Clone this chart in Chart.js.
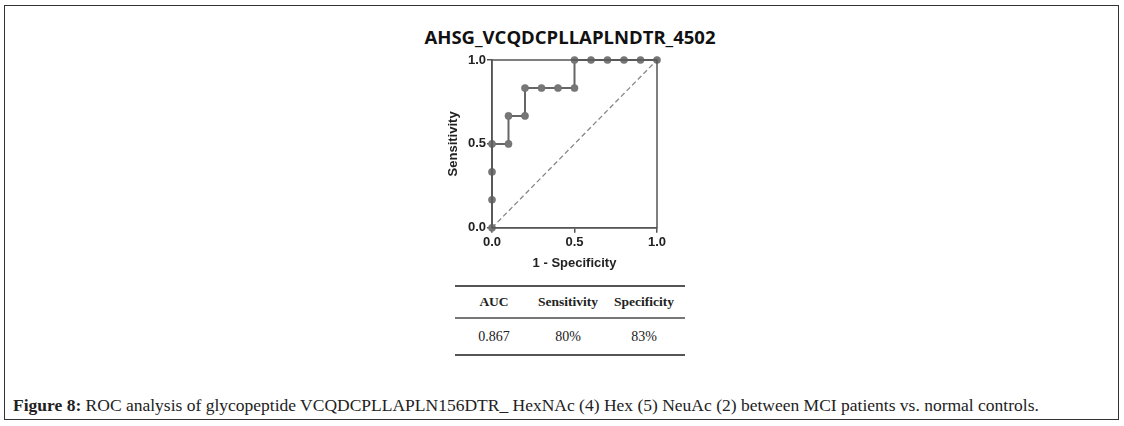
<!DOCTYPE html>
<html>
<head>
<meta charset="utf-8">
<script src="https://cdn.jsdelivr.net/npm/chart.js@4"></script>
<style>
  body { margin: 0; background: #fff; }
  #page { position: relative; width: 1124px; height: 426px; overflow: hidden; }
  #frame { position: absolute; left: 4px; top: 5px; width: 1113px; height: 413px; border: 1px solid #333; }
  #chartTitle { position: absolute; left: 370px; top: 25px; width: 400px; text-align: center;
                font-family: "Open Sans", Arial, sans-serif; font-weight: bold; font-size: 18.5px;
                line-height: 24px; color: #111; white-space: nowrap; }
  #chartBox { position: absolute; left: 372px; top: 18px; width: 400px; height: 265px; }
  #stats { position: absolute; left: 455px; top: 285px; width: 230px; border-collapse: collapse; table-layout: fixed;
           font-family: "Liberation Serif", serif; font-size: 14px; color: #222; }
  #stats th { font-weight: bold; font-size: 13.5px; height: 28px; text-align: center;
              border-top: 2px solid #555; border-bottom: 2px solid #777; }
  #stats td { height: 33px; border-bottom: 2px solid #555; text-align: center; }
  #caption { position: absolute; left: 13px; top: 395px; font-family: "Liberation Serif", serif;
             font-size: 17.5px; color: #222; white-space: nowrap; }
</style>
</head>
<body>
<div id="page">
  <div id="frame"></div>
  <div id="chartTitle">AHSG_VCQDCPLLAPLNDTR_4502</div>
  <div id="chartBox"><canvas id="rocChart"></canvas></div>
  <table id="stats">
    <colgroup><col style="width:78px"><col style="width:70px"><col style="width:82px"></colgroup>
    <thead><tr id="statsHead"></tr></thead>
    <tbody><tr id="statsRow"></tr></tbody>
  </table>
  <div id="caption"><b>Figure 8:</b> ROC analysis of glycopeptide VCQDCPLLAPLN156DTR_ HexNAc (4) Hex (5) NeuAc (2) between MCI patients vs. normal controls.</div>
</div>
<script>
// ROC curve points (1 - specificity, sensitivity)
const fpr = [0, 0, 0, 0, 0.1, 0.1, 0.2, 0.2, 0.3, 0.4, 0.5, 0.5, 0.6, 0.7, 0.8, 0.9, 1.0];
const tpr = [0, 0.167, 0.333, 0.5, 0.5, 0.667, 0.667, 0.833, 0.833, 0.833, 0.833, 1.0, 1.0, 1.0, 1.0, 1.0, 1.0];
const refX = [0, 1];
const refY = [0, 1];
const axisTicks = [0, 0.5, 1.0];
const statHeaders = ['AUC', 'Sensitivity', 'Specificity'];
const statValues = ['0.867', '80%', '83%'];

document.getElementById('statsHead').innerHTML = statHeaders.map(h => '<th>' + h + '</th>').join('');
document.getElementById('statsRow').innerHTML = statValues.map(v => '<td>' + v + '</td>').join('');

// Box around the plot area
const frameBox = {
    id: 'frameBox',
    afterDraw(chart) {
        const a = chart.chartArea, c = chart.ctx;
        c.save();
        c.strokeStyle = '#555';
        c.lineWidth = 1.5;
        c.strokeRect(a.left, a.top, a.right - a.left, a.bottom - a.top);
        c.restore();
    }
};

const tickFont = { family: 'Arial, "Liberation Sans"', size: 13, weight: 'bold' };
const titleFont = { family: 'Arial, "Liberation Sans"', size: 13, weight: 'bold' };

new Chart(document.getElementById('rocChart'), {
    type: 'line',
    data: {
        datasets: [{
            label: 'ROC',
            data: fpr.map((x, i) => ({ x: x, y: tpr[i] })),
            borderColor: '#666',
            borderWidth: 2,
            pointRadius: 3.6,
            pointBackgroundColor: '#777',
            pointBorderColor: '#6a6a6a',
            pointBorderWidth: 0.5,
            clip: false
        }, {
            label: 'Reference',
            data: refX.map((x, i) => ({ x: x, y: refY[i] })),
            borderColor: '#888',
            borderWidth: 1.3,
            borderDash: [5, 3],
            pointRadius: 0
        }]
    },
    options: {
        responsive: true,
        maintainAspectRatio: false,
        animation: false,
        layout: { padding: { left: 70, right: 115, top: 42, bottom: 8 } },
        plugins: {
            legend: { display: false },
            tooltip: { enabled: false },
            title: { display: false }
        },
        scales: {
            x: {
                type: 'linear', min: 0, max: 1,
                afterBuildTicks: s => { s.ticks = axisTicks.map(v => ({ value: v })); },
                ticks: { font: tickFont, color: '#222', padding: 2, callback: v => v.toFixed(1) },
                grid: { drawOnChartArea: false, drawTicks: true, tickLength: 5, color: '#555', lineWidth: 1.5 },
                border: { display: true, color: '#555', width: 1.5 },
                title: { display: true, text: '1 - Specificity', color: '#222', font: titleFont, padding: { top: 3 } }
            },
            y: {
                type: 'linear', min: 0, max: 1,
                afterBuildTicks: s => { s.ticks = axisTicks.map(v => ({ value: v })); },
                afterFit: s => { s.width = 50; },
                ticks: { font: tickFont, color: '#222', padding: 1, callback: v => v.toFixed(1) },
                grid: { drawOnChartArea: false, drawTicks: true, tickLength: 5, color: '#555', lineWidth: 1.5 },
                border: { display: true, color: '#555', width: 1.5 },
                title: { display: true, text: 'Sensitivity', color: '#222', font: titleFont, padding: { bottom: 4 } }
            }
        }
    },
    plugins: [frameBox]
});
</script>
</body>
</html>
